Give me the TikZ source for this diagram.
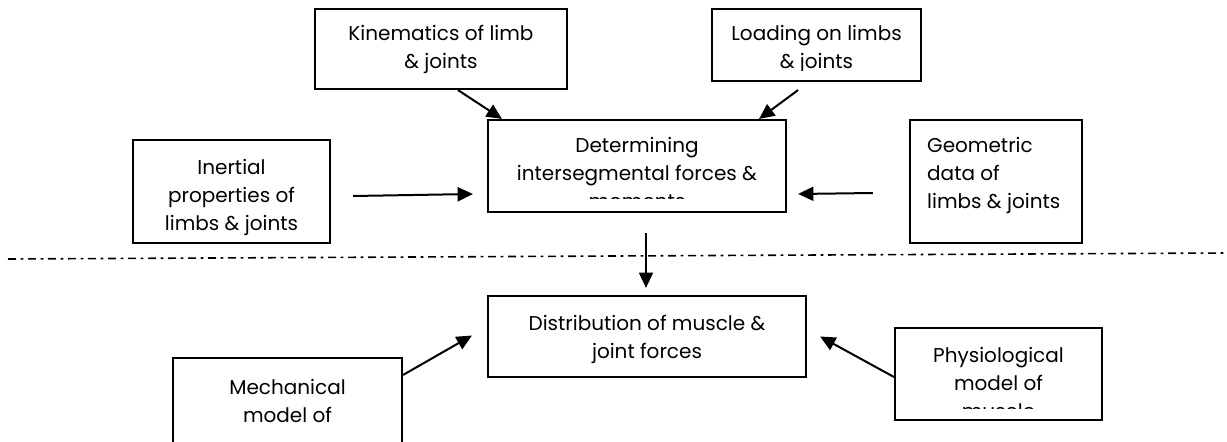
\documentclass[tikz,border=0pt]{standalone}
\usepackage{fontspec}
\setmainfont{Poppins}
\usepackage{tikz}
\usetikzlibrary{arrows.meta,fit}
\usetikzlibrary{calc}

\tikzset{
  box/.style = {draw, line width=1.6pt, inner sep=0pt},
  txt/.style = {anchor=north, inner sep=0pt, align=center,
                font=\fontsize{15}{21}\selectfont},
  link/.style = {line width=1.5pt, -{Triangle[length=11.5pt,width=10.5pt]}},
  cut/.style = {line width=1.2pt, dash pattern=on 6pt off 3.5pt on 2pt off 3.5pt}
}

\begin{document}
\begin{tikzpicture}[x=0.75pt, y=-0.75pt]
\useasboundingbox (0,0) rectangle (1227,442);

\node[box, fit={(315,9) (567,89)}] (kin) {};
\node[box, fit={(712,9) (921,81)}] (load) {};
\node[box, fit={(488,120) (786,212)}] (det) {};
\node[box, fit={(133,140) (330,243)}] (inert) {};
\node[box, fit={(910,120) (1082,243)}] (geo) {};
\node[box, fit={(488,296) (806,377)}] (dist) {};
\node[box, fit={(173,358) (402,460)}] (mech) {};
\node[box, fit={(895,328) (1102,420)}] (phys) {};

\node[txt] (kintext) at ($(kin.north)+(0,17.5)$) {Kinematics of limb\\ \& joints};
\begin{scope}
\clip (load.north west) rectangle ($(load.south east)+(0,-12)$);
\node[txt] (loadtext) at ($(load.north)+(0,17.5)$) {Loading on limbs\\ \& joints};
\end{scope}
\begin{scope}
\clip (det.north west) rectangle ($(det.south east)+(0,-15)$);
\node[txt] (dettext) at ($(det.north)+(0,18.5)$) {Determining\\ intersegmental forces \&\\ moments};
\end{scope}
\node[txt] (inerttext) at ($(inert.north)+(0,20.5)$) {Inertial\\ properties of\\ limbs \& joints};
\node[txt, anchor=north west, align=left] (geotext) at ($(geo.north west)+(18,18.5)$) {Geometric\\ data of\\ limbs \& joints};
\node[txt] (disttext) at ($(dist.north)+(0,20.5)$) {Distribution of muscle \&\\ joint forces};
\node[txt] (mechtext) at ($(mech.north)+(0,22.5)$) {Mechanical\\ model of};
\begin{scope}
\clip (phys.north west) rectangle ($(phys.south east)+(0,-13)$);
\node[txt] (phystext) at ($(phys.north)+(0,20.5)$) {Physiological\\ model of\\ muscle};
\end{scope}

\draw[cut] (8,259) -- (1227,253);

\draw[link] ($(kin.south)+(17,0)$) -- ($(det.north west)+(15,0)$);
\draw[link] ($(load.south east)+(-124,8)$) -- ($(det.north east)+(-28,0)$);
\draw[link] ($(inert.east)+(22,4.5)$) -- ($(det.west)+(-14,28)$);
\draw[link] ($(geo.west)+(-36,11.5)$) -- ($(det.east)+(11,28)$);
\draw[link] ($(det.south)+(9,20)$) -- ($(dist.north)+(-1,-7)$);
\draw[link] ($(mech.north east)+(0,18)$) -- ($(dist.west)+(-15,-1)$);
\draw[link] ($(phys.west)+(0,3)$) -- ($(dist.east)+(13,0)$);

\end{tikzpicture}
\end{document}
